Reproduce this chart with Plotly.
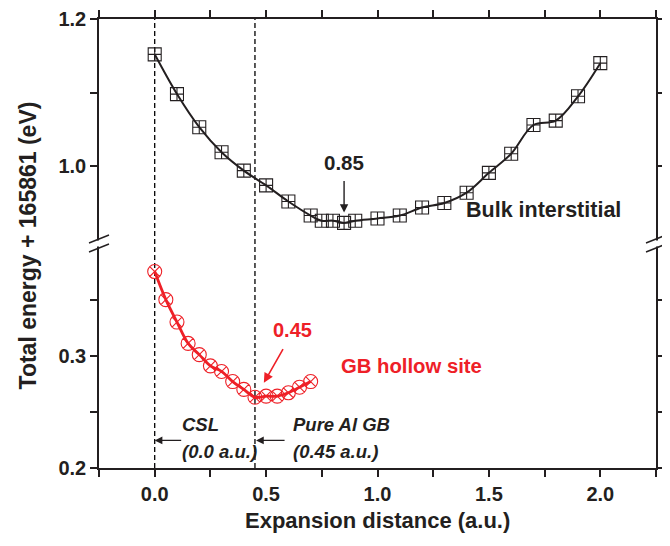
import plotly.graph_objects as go

# ---- data ----
bulk_x = [0.0, 0.1, 0.2, 0.3, 0.4, 0.5, 0.6, 0.7, 0.75, 0.8, 0.85, 0.9, 1.0,
          1.1, 1.2, 1.3, 1.4, 1.5, 1.6, 1.7, 1.8, 1.9, 2.0]
bulk_e = [1.152, 1.098, 1.053, 1.019, 0.994, 0.974, 0.952, 0.933, 0.926, 0.926,
          0.923, 0.926, 0.929, 0.933, 0.944, 0.950, 0.964, 0.991, 1.017, 1.056,
          1.062, 1.095, 1.140]
gb_x = [0.0, 0.05, 0.1, 0.15, 0.2, 0.25, 0.3, 0.35, 0.4, 0.45, 0.5, 0.55, 0.6, 0.65, 0.7]
gb_e = [0.375, 0.350, 0.330, 0.311, 0.301, 0.291, 0.286, 0.277, 0.270, 0.263,
        0.264, 0.264, 0.267, 0.272, 0.277]

x_ticks = [0.0, 0.5, 1.0, 1.5, 2.0]
x_labels = ["0.0", "0.5", "1.0", "1.5", "2.0"]
x_minor = [-0.25, 0.25, 0.75, 1.25, 1.75, 2.25]
low_ticks = [0.2, 0.3]
low_labels = ["0.2", "0.3"]
low_minor = [0.25, 0.35]
up_ticks = [1.0, 1.2]
up_labels = ["1.0", "1.2"]
up_minor = [1.1]
marker_lines = [0.0, 0.45]

RED = "#ee2027"
INK = "#231f20"
FONT = "Liberation Sans"

def bold(labels):
    return ["<b>%s</b>" % s for s in labels]

fig = go.Figure()

fig.add_trace(go.Scatter(
    x=bulk_x, y=bulk_e, xaxis="x2", yaxis="y2", mode="lines+markers",
    line=dict(color=INK, width=2, shape="spline", smoothing=1.0),
    marker=dict(symbol="square-cross-open", size=13, color=INK, line=dict(width=1.1)),
    showlegend=False))

fig.add_trace(go.Scatter(
    x=gb_x, y=gb_e, xaxis="x", yaxis="y", mode="lines+markers",
    line=dict(color=RED, width=2.8, shape="spline", smoothing=1.0),
    marker=dict(symbol="circle-x-open", size=14, color=RED, line=dict(width=1.1)),
    showlegend=False))

tickfont = dict(family=FONT, size=20, color=INK)
axis_common = dict(showline=True, linecolor=INK, linewidth=1.6, ticks="outside",
                   ticklen=7, tickwidth=1.5, tickcolor=INK, showgrid=False,
                   zeroline=False, tickfont=tickfont, automargin=False)
minor_common = dict(ticks="outside", ticklen=7, tickwidth=1.5, tickcolor=INK)

fig.update_layout(
    width=662, height=538,
    margin=dict(l=91, r=14, t=11, b=78, autoexpand=False),
    paper_bgcolor="white", plot_bgcolor="white",
    xaxis=dict(range=[-0.25, 2.25], anchor="y", tickmode="array",
               tickvals=x_ticks, ticktext=bold(x_labels),
               minor=dict(tickvals=x_minor, **minor_common), **axis_common),
    xaxis2=dict(range=[-0.25, 2.25], anchor="y2", side="top", matches="x",
                tickmode="array", tickvals=x_ticks, showticklabels=False,
                minor=dict(tickvals=x_minor, **minor_common), **axis_common),
    yaxis=dict(domain=[0, 0.5], range=[0.2, 0.4], tickmode="array",
               tickvals=low_ticks, ticktext=bold(low_labels), mirror="ticks",
               minor=dict(tickvals=low_minor, **minor_common), **axis_common),
    yaxis2=dict(domain=[0.5, 1], range=[0.895, 1.2], anchor="x2", tickmode="array",
                tickvals=up_ticks, ticktext=bold(up_labels), mirror="ticks",
                minor=dict(tickvals=up_minor, **minor_common), **axis_common),
)

# dashed reference lines spanning the whole plot
for xv in marker_lines:
    fig.add_shape(type="line", xref="x", yref="paper", x0=xv, x1=xv, y0=0, y1=1,
                  line=dict(color="black", width=1.3, dash="5px,3px"), layer="below")

# axis break marks
for px in [0, 1]:
    fig.add_shape(type="rect", xref="paper", yref="paper", xsizemode="pixel",
                  ysizemode="pixel", xanchor=px, yanchor=0.5, x0=-4, x1=4, y0=-3, y1=3,
                  fillcolor="white", line=dict(width=0))
    for dy in [-4.5, 4.5]:
        fig.add_shape(type="line", xref="paper", yref="paper", xsizemode="pixel",
                      ysizemode="pixel", xanchor=px, yanchor=0.5,
                      x0=-10, x1=10, y0=dy - 4, y1=dy + 4,
                      line=dict(color=INK, width=1.5))

ann = []
# axis titles
ann.append(dict(text="<b>Total energy + 165861 (eV)</b>", xref="paper", yref="paper",
                x=-0.128, y=0.495, xanchor="center", yanchor="middle", textangle=-90,
                showarrow=False, font=dict(family=FONT, size=23, color=INK)))
ann.append(dict(text="<b>Expansion distance (a.u.)</b>", xref="paper", yref="paper",
                x=0.5, y=-0.116, xanchor="center", yanchor="middle",
                showarrow=False, font=dict(family=FONT, size=22, color=INK)))
# upper panel labels
ann.append(dict(text="<b>0.85</b>", xref="x2", yref="y2", x=0.85, y=1.005,
                showarrow=False, font=dict(family=FONT, size=20.5, color=INK)))
ann.append(dict(text="", xref="x2", yref="y2", x=0.85, y=0.937, ax=0, ay=-33,
                showarrow=True, arrowhead=2, arrowsize=1.2, arrowwidth=1.4,
                arrowcolor=INK))
ann.append(dict(text="<b>Bulk interstitial</b>", xref="x2", yref="y2", x=1.39, y=0.941,
                xanchor="left", yanchor="middle", showarrow=False,
                font=dict(family=FONT, size=21.5, color=INK)))
# lower panel labels
ann.append(dict(text="<b>0.45</b>", xref="x", yref="y", x=0.52, y=0.323,
                xanchor="left", yanchor="middle", showarrow=False,
                font=dict(family=FONT, size=20, color=RED)))
ann.append(dict(text="", xref="x", yref="y", x=0.49, y=0.276, ax=20, ay=-35,
                showarrow=True, arrowhead=2, arrowsize=1.2, arrowwidth=1.6,
                arrowcolor=RED))
ann.append(dict(text="<b>GB hollow site</b>", xref="x", yref="y", x=0.828, y=0.2905,
                xanchor="left", yanchor="middle", showarrow=False,
                font=dict(family=FONT, size=20.3, color=RED)))
ann.append(dict(text="<b><i>CSL</i></b>", xref="x", yref="y", x=0.112, y=0.2387,
                xanchor="left", yanchor="middle", showarrow=False,
                font=dict(family=FONT, size=18.5, color=INK)))
ann.append(dict(text="<b><i>(0.0 a.u.)</i></b>", xref="x", yref="y", x=0.112, y=0.2147,
                xanchor="left", yanchor="middle", showarrow=False,
                font=dict(family=FONT, size=18.5, color=INK)))
ann.append(dict(text="<b><i>Pure Al GB</i></b>", xref="x", yref="y", x=0.612, y=0.2387,
                xanchor="left", yanchor="middle", showarrow=False,
                font=dict(family=FONT, size=18.5, color=INK)))
ann.append(dict(text="<b><i>(0.45 a.u.)</i></b>", xref="x", yref="y", x=0.612, y=0.2147,
                xanchor="left", yanchor="middle", showarrow=False,
                font=dict(family=FONT, size=18.5, color=INK)))
ann.append(dict(text="", xref="x", yref="y", x=0.0, y=0.2246, ax=28, ay=0,
                showarrow=True, arrowhead=2, arrowsize=1.1, arrowwidth=1.4,
                arrowcolor=INK))
ann.append(dict(text="", xref="x", yref="y", x=0.455, y=0.2246, ax=30, ay=0,
                showarrow=True, arrowhead=2, arrowsize=1.1, arrowwidth=1.4,
                arrowcolor=INK))
fig.update_layout(annotations=ann)

fig.write_html("out.html")
